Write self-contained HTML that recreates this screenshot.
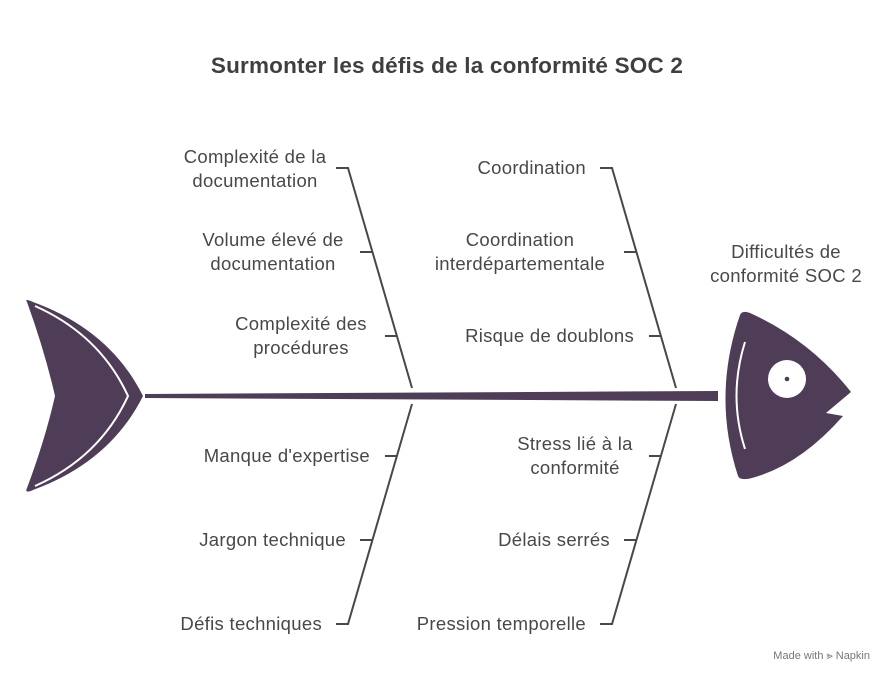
<!DOCTYPE html>
<html><head><meta charset="utf-8"><style>
body{margin:0;width:894px;height:684px;background:#fff;position:relative;overflow:hidden;font-family:"Liberation Sans",Arial,sans-serif;color:#484848}
.t{position:absolute;font-size:18.5px;letter-spacing:0.3px;line-height:24px;text-align:center;width:260px;white-space:nowrap}
h1{position:absolute;margin:0;top:53px;left:0;width:894px;text-align:center;font-size:22.5px;letter-spacing:0.2px;font-weight:bold;color:#3f3f3f}
.m{position:absolute;right:24px;top:650px;font-size:11px;color:#777}
</style></head><body>
<h1>Surmonter les défis de la conformité SOC 2</h1>
<svg width="894" height="684" style="position:absolute;left:0;top:0">
<g fill="#4f3d58">
<path d="M27,302 Q24,298 33,302 Q110,330 143,396 Q110,462 33,490 Q24,494 27,488 Q45,440 55,396 Q45,352 27,302Z"/>
<polygon points="145,394 718,391 718,401 145,398"/>
<path d="M740,315 Q742,310 750,313 Q810,340 851,392 L826,413 L843,416 Q800,465 752,478 Q740,481 738,476 Q712,396 740,315Z"/>
</g>
<path d="M35,306 Q100,335 128,396 Q100,457 35,486" fill="none" stroke="#fff" stroke-width="2"/>
<path d="M745,342 Q728,396 745,449" fill="none" stroke="#fff" stroke-width="2"/>
<circle cx="787" cy="379" r="19" fill="#fff"/><circle cx="787" cy="379" r="2.3" fill="#4f3d58"/>
<g stroke="#484848" stroke-width="2" fill="none">
<path d="M336,168H348L412,388"/><path d="M360,252H372"/><path d="M385,336H397"/>
<path d="M412,404L348,624H336"/><path d="M385,456H397"/><path d="M360,540H372"/>
<path d="M600,168H612L676,388"/><path d="M624,252H636"/><path d="M649,336H661"/>
<path d="M676,404L612,624H600"/><path d="M649,456H661"/><path d="M624,540H636"/>
</g>
</svg>
<div class="t" style="left:125px;top:145px">Complexité de la<br>documentation</div>
<div class="t" style="left:143px;top:228px">Volume élevé de<br>documentation</div>
<div class="t" style="left:171px;top:312px">Complexité des<br>procédures</div>
<div class="t" style="left:110px;top:444px;text-align:right">Manque d'expertise</div>
<div class="t" style="left:86px;top:528px;text-align:right">Jargon technique</div>
<div class="t" style="left:62px;top:612px;text-align:right">Défis techniques</div>
<div class="t" style="left:326px;top:156px;text-align:right">Coordination</div>
<div class="t" style="left:390px;top:228px">Coordination<br>interdépartementale</div>
<div class="t" style="left:374px;top:324px;text-align:right">Risque de doublons</div>
<div class="t" style="left:445px;top:432px">Stress lié à la<br>conformité</div>
<div class="t" style="left:350px;top:528px;text-align:right">Délais serrés</div>
<div class="t" style="left:326px;top:612px;text-align:right">Pression temporelle</div>
<div class="t" style="left:656px;top:240px">Difficultés de<br>conformité SOC 2</div>
<div class="m">Made with ⪢ Napkin</div>
</body></html>
